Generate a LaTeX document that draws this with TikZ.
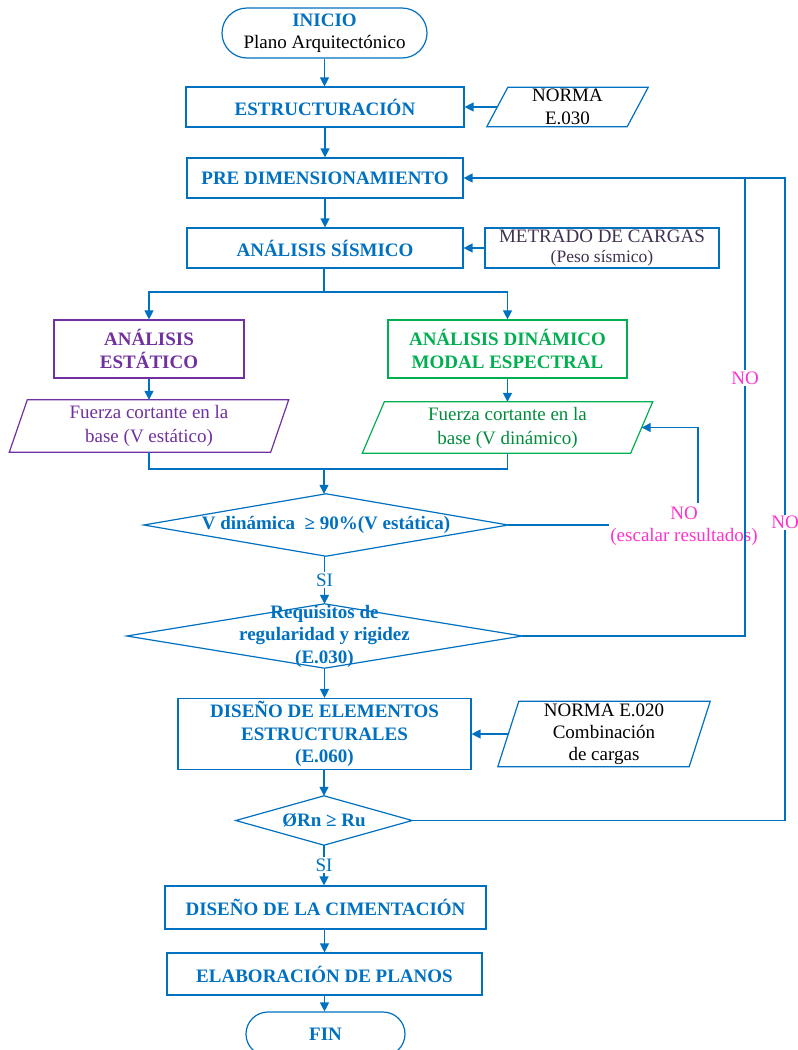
\documentclass[tikz,border=0pt]{standalone}
\usepackage{fontspec}
\setmainfont{Liberation Serif}
\usetikzlibrary{arrows.meta,calc}
\definecolor{bl}{RGB}{0,112,192}
\definecolor{pu}{RGB}{112,48,160}
\definecolor{gr}{RGB}{0,176,80}
\definecolor{dg}{RGB}{0,140,60}
\definecolor{mg}{RGB}{255,51,204}
\definecolor{gy}{RGB}{64,49,82}
\newcommand{\fsb}{\fontsize{19}{22.5}\selectfont}
\newcommand{\fss}{\fontsize{17.5}{20}\selectfont}
\newcommand{\para}[3]{%
  \draw[draw=#3, line width=1.2pt] (#1.south west) -- ($(#1.north west)+(#2,0)$) -- (#1.north east) -- ($(#1.south east)+(-#2,0)$) -- cycle;
  \coordinate (#1-w) at ($(#1.west)+(#2/2,0)$);
  \coordinate (#1-e) at ($(#1.east)+(-#2/2,0)$);}
\newcommand{\dia}[1]{\draw[draw=bl, line width=1.2pt] (#1.north) -- (#1.east) -- (#1.south) -- (#1.west) -- cycle;}
\begin{document}
\begin{tikzpicture}[x=1pt,y=-1pt,
  base/.style={inner sep=0pt, align=center, font=\fsb},
  proc/.style={base, draw=bl, line width=1.2pt, text=bl, font=\fsb\bfseries},
  term/.style={proc, rounded corners=#1},
  conn/.style={draw=bl, line width=1.3pt},
  arr/.style={conn, -{Triangle[length=9pt,width=9pt]}},
  lbl/.style={base, fill=white, inner sep=1.5pt},
]
\useasboundingbox (0,0) rectangle (798,1050);

% nodes
\node[term=25pt, minimum width=205, minimum height=50] (start) at (324.5,33)
  {INICIO\\{\mdseries\color{black}Plano Arquitectónico}};
\node[proc, minimum width=278, minimum height=40] (est) at (325,107) {ESTRUCTURACIÓN};
\node[base, minimum width=161, minimum height=39] (n1) at (567.5,107) {NORMA\\E.030};
\para{n1}{21}{bl}
\node[proc, minimum width=276, minimum height=40] (pre) at (325,178) {PRE DIMENSIONAMIENTO};
\node[proc, minimum width=276, minimum height=40] (sis) at (325,248) {ANÁLISIS SÍSMICO};
\node[base, draw=bl, line width=1.2pt, text=gy, minimum width=234, minimum height=40] (metr) at (602,248)
  {METRADO DE CARGAS\\[-2pt]{\fss (Peso sísmico)}};
\node[proc, draw=pu, text=pu, minimum width=190, minimum height=58] (estat) at (149,349) {ANÁLISIS\\ESTÁTICO};
\node[proc, draw=gr, text=gr, minimum width=239, minimum height=58] (dina) at (507.5,349) {ANÁLISIS DINÁMICO\\MODAL ESPECTRAL};
\node[base, text=pu, minimum width=279, minimum height=52, font=\fontsize{19}{24}\selectfont] (fl) at (149,426)
  {Fuerza cortante en la\\base (V estático)};
\para{fl}{18}{pu}
\node[base, text=dg, minimum width=290, minimum height=51, font=\fontsize{19}{24}\selectfont] (fr) at (507.5,427.5)
  {Fuerza cortante en la\\base (V dinámico)};
\para{fr}{22}{gr}
\node[base, text=bl, font=\fsb\bfseries, minimum width=364, minimum height=62] (d1) at (326,525)
  {V dinámica~ ≥ 90\%(V estática)};
\dia{d1}
\node[base, text=bl, font=\fsb\bfseries, minimum width=395, minimum height=64] (d2) at (324.5,636)
  {Requisitos de\\regularidad y rigidez\\(E.030)};
\dia{d2}
\node[proc, minimum width=293, minimum height=71] (dis) at (324.5,734)
  {DISEÑO DE ELEMENTOS\\ESTRUCTURALES\\(E.060)};
\node[base, minimum width=212, minimum height=65, font=\fontsize{19}{22}\selectfont] (n2) at (604,734)
  {NORMA E.020\\Combinación\\de cargas};
\para{n2}{21}{bl}
\node[base, text=bl, font=\fsb\bfseries, minimum width=176, minimum height=49] (d3) at (324,820.5) {ØRn ≥ Ru};
\dia{d3}
\node[proc, minimum width=321, minimum height=43] (cim) at (325.5,907.5) {DISEÑO DE LA CIMENTACIÓN};
\node[proc, minimum width=315, minimum height=42] (plan) at (324.5,974) {ELABORACIÓN DE PLANOS};
\node[term=22pt, minimum width=159, minimum height=44] (fin) at (325.5,1034) {FIN};

% main flow
\draw[arr] (start.south) -- (start.south |- est.north);
\draw[arr] (n1-w) -- (est.east);
\draw[arr] (est.south) -- (est.south |- pre.north);
\draw[arr] (pre.south) -- (pre.south |- sis.north);
\draw[arr] (metr.west) -- (sis.east);
\coordinate (split) at (324,292);
\draw[conn] (sis.south -| split) -- (split);
\draw[arr] (split) -| (estat.north);
\draw[arr] (split) -| (dina.north);
\draw[arr] (estat.south) -- (fl.north);
\draw[arr] (dina.south) -- (fr.north);
\coordinate (merge) at (324,469);
\draw[conn] (fl.south) |- (merge);
\draw[conn] (fr.south) |- (merge);
\draw[arr] (merge) -- (merge |- d1.north);
\draw[arr] (d1.south -| d2.north) -- node[lbl, text=bl, font=\fontsize{19}{22}\selectfont]{SI} (d2.north);
\draw[arr] (d2.south) -- (d2.south |- dis.north);
\draw[arr] (n2-w) -- (dis.east);
\draw[arr] (dis.south -| d3.north) -- (d3.north);
\draw[arr] (d3.south) -- node[lbl, text=bl, font=\fontsize{19}{22}\selectfont]{SI} (d3.south |- cim.north);
\draw[arr] (cim.south -| plan.north) -- (plan.north);
\draw[arr] (plan.south) -- (plan.south |- fin.north);

% scaling loop
\coordinate (c1) at (609,525);
\draw[conn] (d1.east) -- (c1);
\node[base, text=mg] (no1) at (684,526) {NO\\(escalar resultados)};
\coordinate (c2) at (698,503);
\draw[arr] (c2) |- (fr-e);

% return loops
\coordinate (r1) at (745,178);
\coordinate (r1b) at (d2.east -| r1);
\draw[arr] (d2.east) -- (r1b) -- node[lbl, text=mg, pos=0.563]{NO} (r1) -- (pre.east);
\coordinate (r2) at (785,178);
\coordinate (r2b) at (d3.east -| r2);
\draw[conn] (d3.east) -- (r2b) -- node[lbl, text=mg, pos=0.464]{NO} (r2) -- (r1);
\end{tikzpicture}
\end{document}
